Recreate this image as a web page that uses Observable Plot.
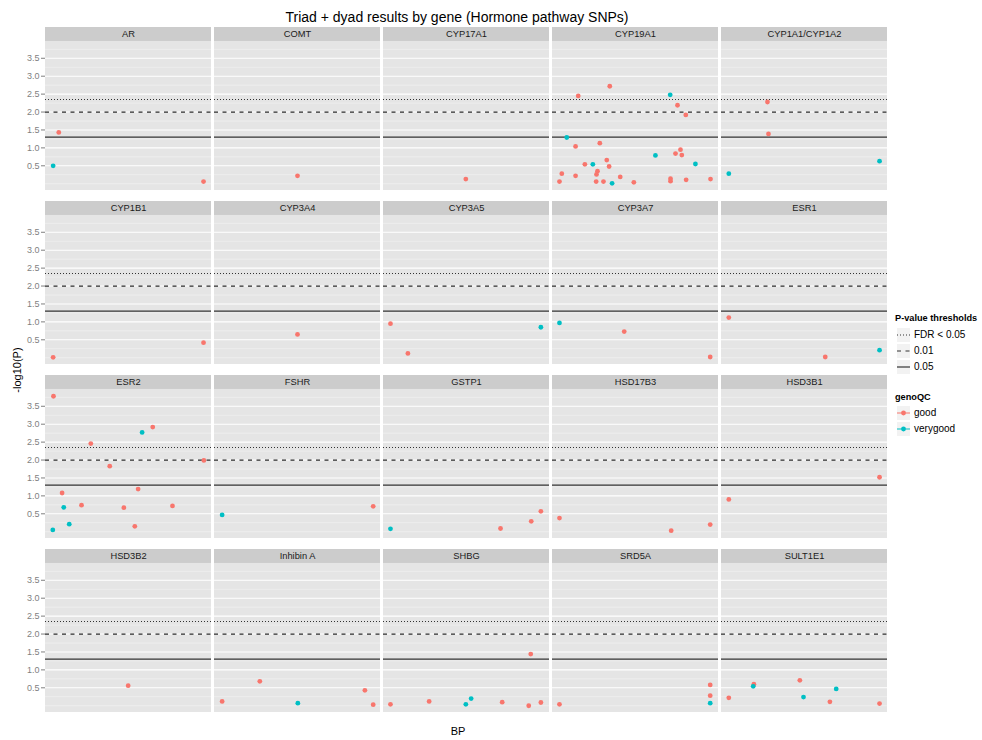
<!DOCTYPE html>
<html>
<head>
<meta charset="utf-8">
<script src="https://cdn.jsdelivr.net/npm/d3@7"></script>
<script src="https://cdn.jsdelivr.net/npm/@observablehq/plot@0.6"></script>
<style>
  body { margin: 0; background: #fff; font-family: "Liberation Sans", Arial, sans-serif; }
  #wrap { position: relative; width: 982px; height: 740px; overflow: hidden; }
  #chart { position: absolute; left: 0; top: 0; }
  .abs { position: absolute; white-space: nowrap; }
  #title { left: 0; width: 914px; top: 9px; text-align: center; font-size: 14px; line-height: 16px; color: #000; }
  #xlab { left: 0; width: 916px; top: 725px; text-align: center; font-size: 11px; line-height: 13px; color: #000; }
  #ylab { left: 17px; top: 370px; font-size: 11px; line-height: 13px; transform: translate(-50%, -50%) rotate(-90deg); color: #000; }
  .lgtitle { font-size: 9.2px; font-weight: bold; line-height: 12px; color: #000; }
  .lgitem { font-size: 10px; line-height: 16px; height: 16px; display: flex; align-items: center; color: #000; }
  .lgitem svg { margin-right: 3px; }
</style>
</head>
<body>
<div id="wrap">
  <div id="chart"></div>
  <div id="title" class="abs">Triad + dyad results by gene (Hormone pathway SNPs)</div>
  <div id="xlab" class="abs">BP</div>
  <div id="ylab" class="abs">-log10(P)</div>
  <div id="legend"></div>
</div>
<script>
// ---------- data ----------
const genes = ["AR","COMT","CYP17A1","CYP19A1","CYP1A1/CYP1A2",
               "CYP1B1","CYP3A4","CYP3A5","CYP3A7","ESR1",
               "ESR2","FSHR","GSTP1","HSD17B3","HSD3B1",
               "HSD3B2","Inhibin A","SHBG","SRD5A","SULT1E1"];

// relative BP position of each SNP within its gene (0 = first, 1 = last), per gene
const snpPos = [
  [0.080,0.046,0.952],
  [0.5],
  [0.496],
  [0.345,0.155,0.709,0.753,0.803,0.086,0.139,0.285,0.771,0.741,0.779,0.620,0.861,0.195,0.243,0.327,
   0.341,0.271,0.265,0.056,0.139,0.408,0.042,0.263,0.307,0.359,0.490,0.711,0.711,0.805,0.952],
  [0.277,0.283,0.044,0.952],
  [0.046,0.952],
  [0.5],
  [0.042,0.147,0.948],
  [0.042,0.432,0.950],
  [0.044,0.625,0.952],
  [0.048,0.273,0.582,0.646,0.387,0.954,0.100,0.558,0.217,0.110,0.472,0.765,0.143,0.044,0.538],
  [0.046,0.956],
  [0.042,0.705,0.890,0.948],
  [0.042,0.715,0.950],
  [0.044,0.952],
  [0.498],
  [0.046,0.273,0.502,0.906,0.956],
  [0.042,0.275,0.496,0.528,0.715,0.887,0.875,0.948],
  [0.042,0.950,0.950,0.950],
  [0.044,0.195,0.191,0.472,0.494,0.691,0.653,0.952]
];
// -log10(P) per SNP, per gene
const snpLogP = [
  [1.43,0.50,0.06],
  [0.22],
  [0.13],
  [2.72,2.45,2.48,2.19,1.92,1.29,1.04,1.13,0.95,0.84,0.80,0.79,0.55,0.54,0.54,0.66,
   0.48,0.35,0.26,0.28,0.22,0.19,0.06,0.06,0.06,0.01,0.04,0.14,0.07,0.11,0.13],
  [2.28,1.39,0.28,0.63],
  [0.01,0.42],
  [0.65],
  [0.95,0.12,0.85],
  [0.97,0.73,0.02],
  [1.12,0.02,0.21],
  [3.78,2.46,2.77,2.92,1.83,1.99,1.08,1.19,0.74,0.68,0.67,0.72,0.21,0.05,0.15],
  [0.47,0.71],
  [0.08,0.09,0.29,0.57],
  [0.38,0.03,0.20],
  [0.90,1.52],
  [0.56],
  [0.12,0.68,0.07,0.43,0.03],
  [0.04,0.12,0.04,0.20,0.10,1.44,0.00,0.09],
  [0.04,0.58,0.28,0.07],
  [0.22,0.60,0.54,0.71,0.24,0.47,0.11,0.06]
];
// genoQC level index per SNP (0 = good, 1 = verygood), per gene
const snpQC = [
  [0,1,0],
  [0],
  [0],
  [0,0,1,0,0,1,0,0,0,0,0,1,1,0,1,0,0,0,0,0,0,0,0,0,0,1,0,0,0,0,0],
  [0,0,1,1],
  [0,0],
  [0],
  [0,0,1],
  [1,0,0],
  [0,0,1],
  [0,0,1,0,0,0,0,0,0,1,0,0,1,1,0],
  [1,0],
  [1,0,0,0],
  [0,0,0],
  [0,0],
  [0],
  [0,0,1,0,0],
  [0,0,1,1,0,0,0,0],
  [0,0,0,1],
  [0,0,1,0,1,1,0,0]
];
const qcLevels = ["good","verygood"];
const qcColors = ["#F8766D","#00BFC4"];

const thresholdLabels = ["FDR < 0.05","0.01","0.05"];
const thresholdValues = [2.35, 2.0, 1.301];
const thresholdDash = ["1,2","4,4.5",null];

const yMajorTicks = [0.5,1.0,1.5,2.0,2.5,3.0,3.5];
const yMinorTicks = [0,0.25,0.75,1.25,1.75,2.25,2.75,3.25,3.75];

// ---------- tables ----------
const nCols = 5;
const geneTable = genes.map((g,i) => ({name: g, col: i % nCols, row: Math.floor(i / nCols)}));
const points = [];
genes.forEach((g,i) => {
  snpPos[i].forEach((p,j) => points.push({
    gene: g, col: i % nCols, row: Math.floor(i / nCols),
    pos: p, logP: snpLogP[i][j], qc: qcLevels[snpQC[i][j]]
  }));
});

// ggplot-style 5% expansion of y
const [dMin, dMax] = d3.extent(points, d => d.logP);
const pad = 0.05 * (dMax - dMin);
const yLo = dMin - pad, yHi = dMax + pad;
// strip on top of each panel, as fraction of panel height
const stripPx = 14, panelPx = 149.4;
const yTop = yHi + (yHi - yLo) * stripPx / panelPx;

const font = "'Liberation Sans', Arial, Helvetica, sans-serif";

const chart = Plot.plot({
  width: 890,
  height: 740,
  marginTop: 27,
  marginBottom: 27,
  marginLeft: 44,
  marginRight: 3,
  style: {fontFamily: font, fontSize: "9px", background: "transparent", overflow: "visible"},
  fx: {domain: d3.range(nCols), paddingInner: 0.0195, paddingOuter: 0, axis: null},
  fy: {domain: d3.range(4), paddingInner: 0.062, paddingOuter: 0, axis: null},
  x: {domain: [0, 1], axis: null},
  y: {domain: [yLo, yTop]},
  color: {domain: qcLevels, range: qcColors},
  marks: [
    // panel background
    Plot.rect(geneTable, {fx: "col", fy: "row", y1: yLo, y2: yHi, fill: "#E5E5E5"}),
    // strip
    Plot.rect(geneTable, {fx: "col", fy: "row", y1: yHi, y2: yTop, fill: "#CCCCCC"}),
    Plot.text(geneTable, {fx: "col", fy: "row", text: "name", frameAnchor: "top", dy: 7,
      lineAnchor: "middle", fill: "#1A1A1A", fontSize: 9.3}),
    // grid
    Plot.ruleY(yMinorTicks, {stroke: "#F2F2F2", strokeWidth: 0.7}),
    Plot.ruleY(yMajorTicks, {stroke: "#FFFFFF", strokeWidth: 1.1}),
    // thresholds
    Plot.ruleY([thresholdValues[0]], {stroke: "#333333", strokeWidth: 1.1, strokeDasharray: thresholdDash[0]}),
    Plot.ruleY([thresholdValues[1]], {stroke: "#2B2B2B", strokeWidth: 1.3, strokeDasharray: thresholdDash[1]}),
    Plot.ruleY([thresholdValues[2]], {stroke: "#333333", strokeWidth: 1.2}),
    // y axis
    Plot.axisY({ticks: yMajorTicks, tickFormat: d3.format(".1f"), tickSize: 4, tickPadding: 2,
      color: "#7F7F7F", label: null, fontSize: 9}),
    // points
    Plot.dot(points, {fx: "col", fy: "row", x: "pos", y: "logP", fill: "qc", r: 2.4})
  ]
});
document.getElementById("chart").appendChild(chart);

// ---------- legend ----------
const lg = document.getElementById("legend");
function addAbs(html, left, top, cls) {
  const d = document.createElement("div");
  d.className = "abs " + (cls || "");
  d.style.left = left + "px";
  d.style.top = top + "px";
  d.innerHTML = html;
  lg.appendChild(d);
  return d;
}
addAbs("P-value thresholds", 895, 312, "lgtitle");
thresholdLabels.forEach((lab, i) => {
  const dash = thresholdDash[i] ? `stroke-dasharray="${thresholdDash[i]}"` : "";
  addAbs(`<svg width="15" height="16"><rect x="0.5" y="0.5" width="14" height="15" fill="#F2F2F2" stroke="#fff"/>` +
    `<line x1="1" x2="14" y1="8" y2="8" stroke="#333" stroke-width="1.2" ${dash}/></svg>${lab}`,
    896, 327 + i * 16, "lgitem");
});
addAbs("genoQC", 895, 391, "lgtitle");
qcLevels.forEach((lab, i) => {
  addAbs(`<svg width="15" height="16"><rect x="0.5" y="0.5" width="14" height="15" fill="#F2F2F2" stroke="#fff"/>` +
    `<line x1="1" x2="14" y1="8" y2="8" stroke="${qcColors[i]}" stroke-width="1"/>` +
    `<circle cx="7.5" cy="8" r="2.4" fill="${qcColors[i]}"/></svg>${lab}`,
    896, 405 + i * 16, "lgitem");
});
</script>
</body>
</html>
